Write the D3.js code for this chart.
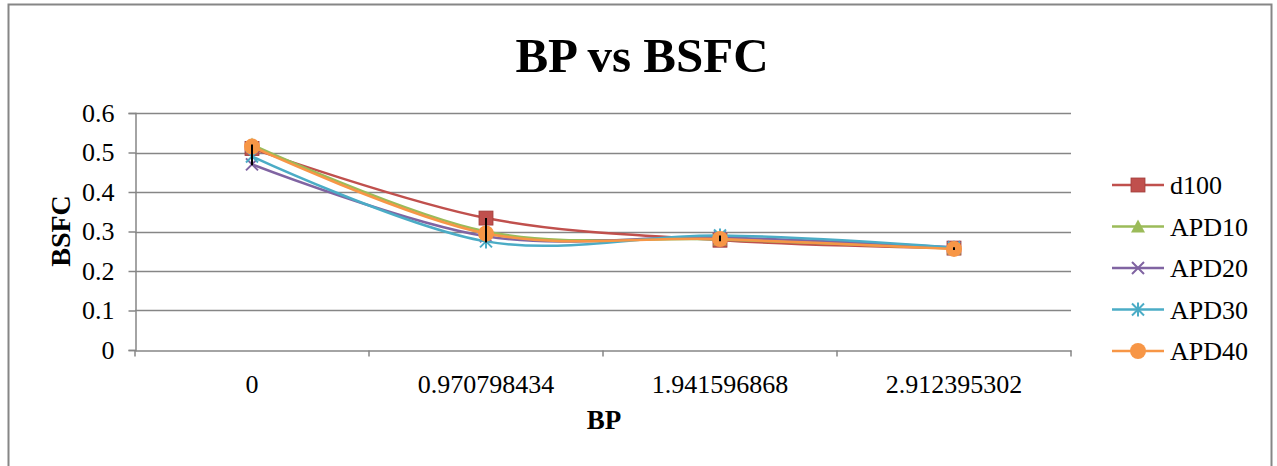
<!DOCTYPE html>
<html>
<head>
<meta charset="utf-8">
<script src="https://cdn.jsdelivr.net/npm/d3@7/dist/d3.min.js"></script>
<style>
  html, body { margin: 0; padding: 0; background: #fff; }
  svg { display: block; font-family: "Liberation Serif", "Times New Roman", serif; }
</style>
</head>
<body>
<svg id="chart" width="1277" height="466"></svg>
<script>
// Brake power (category labels) and brake specific fuel consumption per blend
const bpLabels = ["0", "0.970798434", "1.941596868", "2.912395302"];
const seriesNames = ["d100", "APD10", "APD20", "APD30", "APD40"];
const d100  = [0.510, 0.334, 0.278, 0.258];
const apd10 = [0.520, 0.300, 0.280, 0.257];
const apd20 = [0.470, 0.288, 0.285, 0.260];
const apd30 = [0.490, 0.275, 0.290, 0.259];
const apd40 = [0.515, 0.295, 0.281, 0.256];
const yTicks = [0, 0.1, 0.2, 0.3, 0.4, 0.5, 0.6];

const seriesValues = [d100, apd10, apd20, apd30, apd40];
const colors = ["#C0504D", "#9BBB59", "#8064A2", "#4BACC6", "#F79646"];
const markers = ["square", "triangle", "x", "star", "circle"];

const svg = d3.select("#chart");
const plot = { left: 135, right: 1071, top: 113, bottom: 350 };
const FONT = "Liberation Serif, Times New Roman, serif";

// chart frame
svg.append("rect")
  .attr("x", 8.5).attr("y", 4.5)
  .attr("width", 1263).attr("height", 470)
  .attr("fill", "#fff").attr("stroke", "#868686").attr("stroke-width", 2);

const x = d3.scaleBand().domain(bpLabels).range([plot.left, plot.right]).padding(0);
const y = d3.scaleLinear().domain([0, 0.6]).range([plot.bottom, plot.top]);
const xc = d => x(d) + x.bandwidth() / 2;

// horizontal gridlines
svg.append("g").selectAll("line").data(yTicks.filter(t => t > 0)).join("line")
  .attr("x1", plot.left).attr("x2", plot.right)
  .attr("y1", d => Math.round(y(d)) + 0.5).attr("y2", d => Math.round(y(d)) + 0.5)
  .attr("stroke", "#868686").attr("stroke-width", 1.5);

// y axis
const yAxis = d3.axisLeft(y).tickValues(yTicks).tickSize(7).tickPadding(14)
  .tickFormat(d3.format("~g"));
const gy = svg.append("g").attr("transform", `translate(${plot.left + 0.5},0)`).call(yAxis);
gy.select(".domain").attr("stroke", "#868686").attr("stroke-width", 1.5);
gy.selectAll(".tick line").attr("stroke", "#868686").attr("stroke-width", 1.5);
gy.selectAll(".tick text").attr("font-size", 26).attr("fill", "#000")
  .attr("font-family", FONT);

// x axis
const xAxis = d3.axisBottom(x).tickSize(0).tickPadding(24);
const gx = svg.append("g").attr("transform", `translate(0,${Math.round(y(0)) + 0.5})`).call(xAxis);
gx.select(".domain").attr("stroke", "#868686").attr("stroke-width", 1.5);
gx.selectAll(".tick text").attr("font-size", 26).attr("fill", "#000")
  .attr("font-family", FONT);
// category boundary tick marks
gx.append("g").selectAll("line").data(d3.range(bpLabels.length + 1)).join("line")
  .attr("x1", i => plot.left + i * x.bandwidth()).attr("x2", i => plot.left + i * x.bandwidth())
  .attr("y1", 0).attr("y2", 6)
  .attr("stroke", "#868686").attr("stroke-width", 1.5);

// title and axis titles
svg.append("text").attr("x", 642).attr("y", 72).attr("text-anchor", "middle")
  .attr("font-size", 49).attr("font-weight", "bold").text("BP vs BSFC");
svg.append("text").attr("transform", "translate(70,231) rotate(-90)")
  .attr("text-anchor", "middle").attr("font-size", 28).attr("font-weight", "bold").text("BSFC");
svg.append("text").attr("x", 604).attr("y", 429).attr("text-anchor", "middle")
  .attr("font-size", 27).attr("font-weight", "bold").text("BP");

// marker drawing
function drawMarker(g, type, cx, cy, color) {
  if (type === "square") {
    g.append("rect").attr("x", cx - 7).attr("y", cy - 7).attr("width", 14).attr("height", 14)
      .attr("fill", color).attr("stroke", "#A03C3A").attr("stroke-width", 0.8);
  } else if (type === "triangle") {
    g.append("path").attr("d", `M${cx},${cy - 7}L${cx + 7},${cy + 6}L${cx - 7},${cy + 6}Z`)
      .attr("fill", color);
  } else if (type === "x") {
    g.append("path").attr("d", `M${cx - 6},${cy - 6}L${cx + 6},${cy + 6}M${cx - 6},${cy + 6}L${cx + 6},${cy - 6}`)
      .attr("stroke", color).attr("stroke-width", 2).attr("fill", "none");
  } else if (type === "star") {
    g.append("path").attr("d",
      `M${cx - 6},${cy - 6}L${cx + 6},${cy + 6}M${cx - 6},${cy + 6}L${cx + 6},${cy - 6}M${cx},${cy - 7}L${cx},${cy + 7}`)
      .attr("stroke", color).attr("stroke-width", 2).attr("fill", "none");
  } else if (type === "circle") {
    g.append("circle").attr("cx", cx).attr("cy", cy).attr("r", 8).attr("fill", color);
  }
}

// smoothed series lines with markers
const line = d3.line().x((d, i) => xc(bpLabels[i])).y(d => y(d)).curve(d3.curveCardinal.tension(0));
seriesValues.forEach((vals, s) => {
  const g = svg.append("g");
  g.append("path").datum(vals).attr("d", line)
    .attr("fill", "none").attr("stroke", colors[s]).attr("stroke-width", 2.5);
  vals.forEach((v, i) => drawMarker(g, markers[s], xc(bpLabels[i]), y(v), colors[s]));
});

// high-low lines across series at each category
const hl = bpLabels.map((lab, i) => {
  const vs = seriesValues.map(s => s[i]);
  return { lab, hi: d3.max(vs), lo: d3.min(vs) };
});
svg.append("g").selectAll("line").data(hl).join("line")
  .attr("x1", d => xc(d.lab)).attr("x2", d => xc(d.lab))
  .attr("y1", d => y(d.hi)).attr("y2", d => y(d.lo) + 1)
  .attr("stroke", "#000").attr("stroke-width", 2);

// legend
const lg = svg.append("g");
seriesNames.forEach((name, s) => {
  const ly = 185 + s * 41.5;
  lg.append("line").attr("x1", 1112).attr("x2", 1164).attr("y1", ly).attr("y2", ly)
    .attr("stroke", colors[s]).attr("stroke-width", 2.5);
  drawMarker(lg, markers[s], 1138, ly, colors[s]);
  lg.append("text").attr("x", 1170).attr("y", ly).attr("dy", "0.35em")
    .attr("font-size", 26).text(name);
});
</script>
</body>
</html>
